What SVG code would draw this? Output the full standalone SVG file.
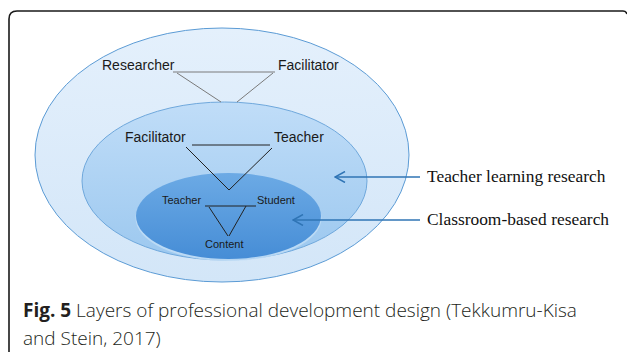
<svg xmlns="http://www.w3.org/2000/svg" width="627" height="352" viewBox="0 0 627 352">
  <defs>
    <linearGradient id="gOuter" x1="0" y1="0" x2="0" y2="1">
      <stop offset="0" stop-color="#e4f0fc"/>
      <stop offset="1" stop-color="#d3e6f8"/>
    </linearGradient>
    <linearGradient id="gMiddle" x1="0" y1="0" x2="0" y2="1">
      <stop offset="0" stop-color="#c0ddf8"/>
      <stop offset="1" stop-color="#9cc8ef"/>
    </linearGradient>
    <linearGradient id="gInner" x1="0" y1="0" x2="0" y2="1">
      <stop offset="0" stop-color="#6caae5"/>
      <stop offset="1" stop-color="#468dd6"/>
    </linearGradient>
    <marker id="chev" viewBox="0 0 12 12" refX="11" refY="6" markerWidth="12" markerHeight="12" markerUnits="userSpaceOnUse" orient="auto">
      <path d="M1 0.5 L11 6 L1 11.5" fill="none" stroke="#2f74b5" stroke-width="1.5"/>
    </marker>
    <style>
      .lbl { font-family: "Liberation Sans", Arial, sans-serif; font-size: 14px; fill: #1a1a1a; }
      .lbl3 { font-family: "Liberation Sans", Arial, sans-serif; font-size: 11px; fill: #1a1a1a; }
      .side { font-family: "Liberation Serif", "Times New Roman", serif; font-size: 17.4px; fill: #111; }
      .cap { font-family: "Open Sans", "Liberation Sans", sans-serif; font-size: 19px; fill: #231f20; font-weight: 300; }
      .tri1 { stroke: #7a7a7a; stroke-width: 1; fill: none; }
      .tri { stroke: #222; stroke-width: 1; fill: none; }
      .arrow { stroke: #2f74b5; stroke-width: 1.5; fill: none; marker-end: url(#chev); }
    </style>
  </defs>

  <path id="frame" d="M9 352 V19 Q9 11 17 11 H623 Q626 11 627 14" fill="none" stroke="#1a1a1a" stroke-width="1.6"/>

  <g id="layer-outer">
    <ellipse cx="222" cy="155" rx="187" ry="127" fill="url(#gOuter)" stroke="#5b9bd5" stroke-width="1"/>
  </g>
  <g id="layer-middle">
    <ellipse cx="224.5" cy="181" rx="142.5" ry="79" fill="url(#gMiddle)" stroke="#6fa8dc" stroke-width="1"/>
  </g>
  <g id="layer-inner">
    <ellipse cx="228.5" cy="218" rx="93" ry="43" fill="#c3def6" opacity="0.8"/>
    <ellipse cx="228.5" cy="216" rx="92.5" ry="43" fill="url(#gInner)"/>
  </g>

  <g id="node-researcher"><text class="lbl" x="102" y="70">Researcher</text></g>
  <g id="node-facilitator-1"><text class="lbl" x="278" y="70">Facilitator</text></g>
  <g id="node-facilitator-2"><text class="lbl" x="125" y="142">Facilitator</text></g>
  <g id="node-teacher-2"><text class="lbl" x="274" y="142">Teacher</text></g>
  <g id="node-teacher-3"><text class="lbl3" x="162" y="204">Teacher</text></g>
  <g id="node-student"><text class="lbl3" x="257" y="204">Student</text></g>
  <g id="node-content"><text class="lbl3" x="205" y="248">Content</text></g>
  <g id="node-tlr"><text class="side" x="427" y="182">Teacher learning research</text></g>
  <g id="node-cbr"><text class="side" x="427" y="225">Classroom-based research</text></g>

  <g id="connectors">
    <line class="tri1" x1="173" y1="72" x2="275" y2="72" stroke="#333"/>
    <line class="tri1" x1="177" y1="73" x2="221" y2="102"/>
    <line class="tri1" x1="273" y1="73" x2="237" y2="102"/>
    <line class="tri" x1="192" y1="145" x2="270" y2="145"/>
    <line class="tri" x1="186" y1="147" x2="229" y2="190"/>
    <line class="tri" x1="272" y1="148" x2="229" y2="190"/>
    <line class="tri" x1="205" y1="206" x2="256" y2="206"/>
    <line class="tri" x1="209" y1="207" x2="228" y2="236"/>
    <line class="tri" x1="246" y1="206" x2="229" y2="236"/>
    <line class="arrow" x1="420" y1="177" x2="335" y2="177"/>
    <line class="arrow" x1="420" y1="220" x2="293" y2="220"/>
  </g>

  <g id="caption">
    <text class="cap" x="23" y="317"><tspan font-weight="700">Fig. 5</tspan> Layers of professional development design (Tekkumru-Kisa</text>
    <text class="cap" x="23" y="345">and Stein, 2017)</text>
  </g>
</svg>
